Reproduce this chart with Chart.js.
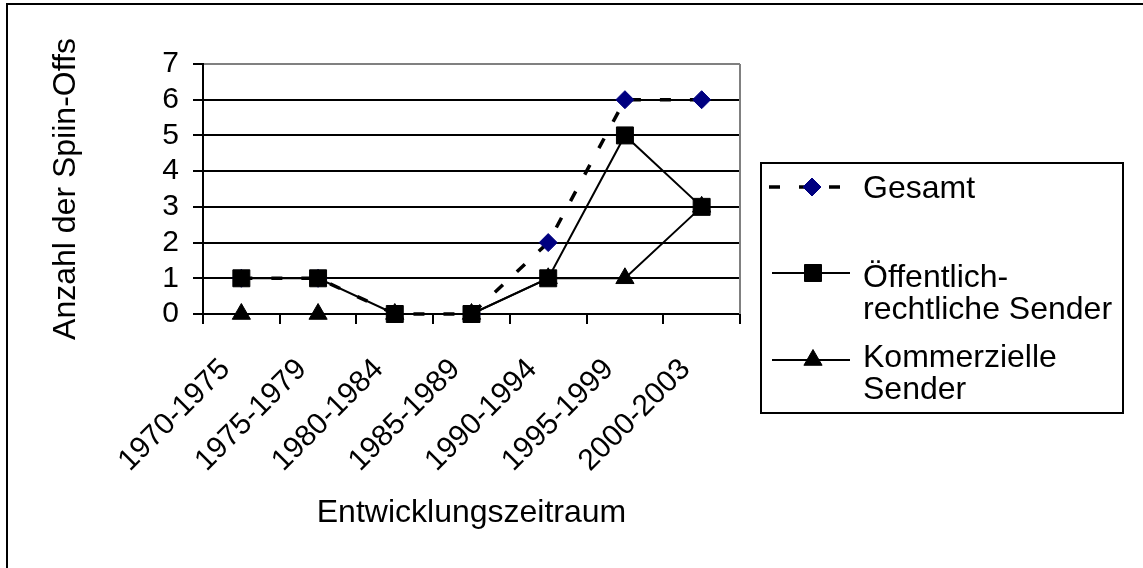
<!DOCTYPE html>
<html>
<head>
<meta charset="utf-8">
<script src="https://cdn.jsdelivr.net/npm/chart.js@4/dist/chart.umd.min.js"></script>
<style>
  html, body { margin: 0; padding: 0; background: #fff; }
  canvas { display: block; }
</style>
</head>
<body>
<canvas id="chart" width="1143" height="568"></canvas>
<script>
// Periods and counts of spin-offs per broadcaster type
const categories = ['1970-1975', '1975-1979', '1980-1984', '1985-1989', '1990-1994', '1995-1999', '2000-2003'];
const gesamt = [1, 1, 0, 0, 2, 6, 6];
const oeffentlich = [1, 1, 0, 0, 1, 5, 3];
const kommerziell = [0, 0, 0, 0, 1, 1, 3];
const yTicks = [0, 1, 2, 3, 4, 5, 6, 7];
const legendLabels = [['Gesamt'], ['Öffentlich-', 'rechtliche Sender'], ['Kommerzielle', 'Sender']];
const xTitle = 'Entwicklungszeitraum';
const yTitle = 'Anzahl der Spiin-Offs';

const FONT = "'Liberation Sans', Arial, sans-serif";

// Marker shapes identical to Chart.js point styles, for the legend samples
function drawMarker(ctx, style, x, y, r, fill, stroke) {
  ctx.save();
  ctx.fillStyle = fill;
  ctx.strokeStyle = stroke;
  ctx.lineWidth = 1;
  ctx.setLineDash([]);
  ctx.beginPath();
  if (style === 'rect') {
    const s = Math.SQRT1_2 * r;
    ctx.rect(x - s, y - s, 2 * s, 2 * s);
  } else if (style === 'rectRot') {
    ctx.moveTo(x - r, y);
    ctx.lineTo(x, y - r);
    ctx.lineTo(x + r, y);
    ctx.lineTo(x, y + r);
    ctx.closePath();
  } else if (style === 'triangle') {
    let a = 0;
    ctx.moveTo(x + Math.sin(a) * r, y - Math.cos(a) * r);
    a += 2 * Math.PI / 3;
    ctx.lineTo(x + Math.sin(a) * r, y - Math.cos(a) * r);
    a += 2 * Math.PI / 3;
    ctx.lineTo(x + Math.sin(a) * r, y - Math.cos(a) * r);
    ctx.closePath();
  }
  ctx.fill();
  ctx.stroke();
  ctx.restore();
}

// White background and the outer frame of the figure
const framePlugin = {
  id: 'frame',
  beforeDraw(chart) {
    const ctx = chart.ctx;
    ctx.save();
    ctx.fillStyle = '#fff';
    ctx.fillRect(0, 0, chart.width, chart.height);
    ctx.strokeStyle = '#000';
    ctx.lineWidth = 2;
    ctx.beginPath();
    ctx.moveTo(7, chart.height);
    ctx.lineTo(7, 4);
    ctx.lineTo(chart.width, 4);
    ctx.stroke();
    ctx.restore();
  }
};

// Grey right edge of the plot area
const plotBorderPlugin = {
  id: 'plotBorder',
  beforeDatasetsDraw(chart) {
    const { ctx, chartArea } = chart;
    ctx.save();
    ctx.strokeStyle = '#808080';
    ctx.lineWidth = 2;
    ctx.beginPath();
    ctx.moveTo(chartArea.right, chartArea.top);
    ctx.lineTo(chartArea.right, chartArea.bottom);
    ctx.stroke();
    ctx.restore();
  }
};

// Boxed legend with line-and-marker samples and wrapped labels
const boxLegendPlugin = {
  id: 'boxLegend',
  afterDraw(chart) {
    const ctx = chart.ctx;
    const box = { x: 761, y: 163, w: 362, h: 250 };
    ctx.save();
    ctx.strokeStyle = '#000';
    ctx.lineWidth = 2;
    ctx.strokeRect(box.x, box.y, box.w, box.h);

    const rows = [
      { sampleY: 187, x0: 769, x1: 842, mx: 812, baseline: 198 },
      { sampleY: 273, x0: 772, x1: 850, mx: 813, baseline: 287 },
      { sampleY: 360, x0: 772, x1: 850, mx: 813, baseline: 367 }
    ];
    chart.data.datasets.forEach((ds, i) => {
      const r = rows[i];
      ctx.save();
      ctx.strokeStyle = ds.borderColor;
      ctx.lineWidth = ds.borderWidth;
      ctx.setLineDash(ds.borderDash || []);
      ctx.beginPath();
      ctx.moveTo(r.x0, r.sampleY);
      ctx.lineTo(r.x1, r.sampleY);
      ctx.stroke();
      ctx.restore();
      drawMarker(ctx, ds.pointStyle, r.mx, r.sampleY, ds.pointRadius, ds.pointBackgroundColor, ds.pointBorderColor);

      ctx.fillStyle = '#000';
      ctx.font = '32px ' + FONT;
      ctx.textAlign = 'left';
      ctx.textBaseline = 'alphabetic';
      legendLabels[i].forEach((line, j) => {
        ctx.fillText(line, 863, r.baseline + j * 31.5);
      });
    });
    ctx.restore();
  }
};

new Chart(document.getElementById('chart'), {
  type: 'line',
  data: {
    labels: categories,
    datasets: [
      {
        label: 'Gesamt',
        data: gesamt,
        order: 3,
        clip: false,
        borderColor: '#000',
        borderWidth: 3.5,
        borderDash: [11, 19],
        pointStyle: 'rectRot',
        pointRadius: 9,
        pointBackgroundColor: '#000080',
        pointBorderColor: '#000080',
        pointBorderWidth: 1,
        tension: 0,
        fill: false
      },
      {
        label: 'Öffentlich-rechtliche Sender',
        data: oeffentlich,
        order: 1,
        clip: false,
        borderColor: '#000',
        borderWidth: 2,
        pointStyle: 'rect',
        pointRadius: 12,
        pointBackgroundColor: '#000',
        pointBorderColor: '#000',
        pointBorderWidth: 1,
        tension: 0,
        fill: false
      },
      {
        label: 'Kommerzielle Sender',
        data: kommerziell,
        order: 2,
        clip: false,
        borderColor: '#000',
        borderWidth: 2,
        pointStyle: 'triangle',
        pointRadius: 10.5,
        pointBackgroundColor: '#000',
        pointBorderColor: '#000',
        pointBorderWidth: 1,
        tension: 0,
        fill: false
      }
    ]
  },
  options: {
    responsive: false,
    animation: false,
    events: [],
    layout: { padding: { top: 64, right: 403, bottom: 0, left: 0 } },
    plugins: {
      legend: { display: false },
      tooltip: { enabled: false },
      title: { display: false }
    },
    scales: {
      x: {
        type: 'category',
        offset: true,
        border: { display: true, color: '#000', width: 2 },
        grid: {
          display: true,
          offset: true,
          drawOnChartArea: false,
          drawTicks: true,
          tickLength: 10,
          color: '#000',
          lineWidth: 2
        },
        ticks: {
          autoSkip: false,
          minRotation: 45,
          maxRotation: 45,
          padding: 28,
          labelOffset: -16,
          color: '#000',
          font: { family: FONT, size: 30 }
        },
        title: {
          display: true,
          text: xTitle,
          color: '#000',
          font: { family: FONT, size: 32 },
          padding: { top: 0, bottom: 36 }
        },
        afterFit(scale) { scale.height = 254; }
      },
      y: {
        min: 0,
        max: 7,
        afterBuildTicks(scale) { scale.ticks = yTicks.map(v => ({ value: v })); },
        border: { display: true, color: '#000', width: 2 },
        grid: {
          drawTicks: true,
          tickLength: 10,
          lineWidth: 2,
          tickColor: '#000',
          color: ctx => (ctx.tick && ctx.tick.value === 7 ? '#808080' : '#000')
        },
        ticks: {
          autoSkip: false,
          padding: 14,
          color: '#000',
          font: { family: FONT, size: 30, lineHeight: 1 }
        },
        title: {
          display: true,
          text: yTitle,
          color: '#000',
          font: { family: FONT, size: 32 },
          padding: { top: 47, bottom: 0 }
        },
        afterFit(scale) { scale.width = 203; }
      }
    }
  },
  plugins: [framePlugin, plotBorderPlugin, boxLegendPlugin]
});
</script>
</body>
</html>
